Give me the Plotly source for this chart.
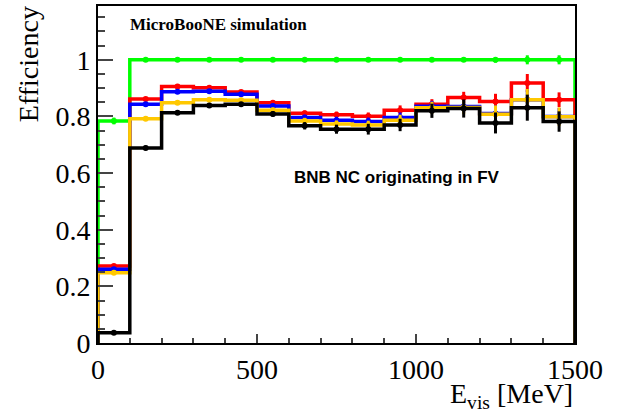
import plotly.graph_objects as go

# 15 bins of 100 MeV in visible energy
bin_edges = [0, 100, 200, 300, 400, 500, 600, 700, 800, 900, 1000, 1100, 1200, 1300, 1400, 1500]

green_eff = [0.784, 1.0, 1.0, 1.0, 1.0, 1.0, 1.0, 1.0, 1.0, 1.0, 1.0, 1.0, 1.0, 1.0, 1.0]
red_eff = [0.272, 0.862, 0.906, 0.901, 0.886, 0.848, 0.811, 0.806, 0.801, 0.822, 0.843, 0.867, 0.853, 0.918, 0.859]
blue_eff = [0.260, 0.843, 0.887, 0.889, 0.878, 0.837, 0.796, 0.787, 0.782, 0.796, 0.836, 0.835, 0.810, 0.859, 0.800]
yellow_eff = [0.248, 0.792, 0.848, 0.859, 0.857, 0.822, 0.784, 0.773, 0.770, 0.787, 0.831, 0.832, 0.808, 0.859, 0.799]
black_eff = [0.036, 0.689, 0.813, 0.839, 0.843, 0.809, 0.767, 0.755, 0.755, 0.770, 0.820, 0.828, 0.777, 0.831, 0.782]

green_err = [0.012, 0.0, 0.0, 0.0, 0.0, 0.0, 0.0, 0.0, 0.0, 0.002, 0.004, 0.006, 0.010, 0.016, 0.016]
red_err = [0.005, 0.006, 0.005, 0.005, 0.006, 0.008, 0.010, 0.011, 0.013, 0.017, 0.018, 0.020, 0.027, 0.032, 0.026]
blue_err = [0.005, 0.006, 0.005, 0.005, 0.006, 0.008, 0.010, 0.012, 0.014, 0.018, 0.019, 0.022, 0.029, 0.035, 0.030]
yellow_err = [0.005, 0.007, 0.006, 0.006, 0.007, 0.009, 0.011, 0.013, 0.015, 0.019, 0.021, 0.024, 0.031, 0.038, 0.033]
black_err = [0.003, 0.008, 0.007, 0.007, 0.007, 0.010, 0.013, 0.016, 0.019, 0.022, 0.025, 0.032, 0.037, 0.046, 0.036]

series = [
    ("#00ff00", green_eff, green_err),
    ("#ff0000", red_eff, red_err),
    ("#0000ff", blue_eff, blue_err),
    ("#ffc800", yellow_eff, yellow_err),
    ("#000000", black_eff, black_err),
]

centers = [(a + b) / 2 for a, b in zip(bin_edges[:-1], bin_edges[1:])]

fig = go.Figure()
for color, eff, err in series:
    # ROOT-style histogram outline: up from 0 at left edge, down to 0 at right edge
    xs = [bin_edges[0]] + bin_edges[:-1] + [bin_edges[-1], bin_edges[-1]]
    ys = [0] + eff + [eff[-1], 0]
    fig.add_trace(go.Scatter(x=xs, y=ys, mode="lines", line=dict(color=color, width=3.5, shape="hv"),
                             showlegend=False, hoverinfo="skip"))
    fig.add_trace(go.Scatter(x=centers, y=eff, mode="markers",
                             marker=dict(color=color, size=6),
                             error_y=dict(type="data", array=err, color=color, thickness=3, width=0),
                             showlegend=False))

serif = "Liberation Serif"

fig.update_layout(
    width=639, height=417,
    margin=dict(l=98, r=64, t=4, b=74),
    plot_bgcolor="white", paper_bgcolor="white",
    font=dict(family=serif, size=28, color="black"),
    xaxis=dict(range=[0, 1500], tickvals=[0, 500, 1000, 1500], ticks="inside", ticklen=9, tickwidth=2,
               minor=dict(dtick=100, tick0=0, ticks="inside", ticklen=5, tickwidth=2),
               showline=True, linewidth=2, linecolor="black", mirror=True, showgrid=False, zeroline=False),
    yaxis=dict(range=[0, 1.19], tickvals=[0, 0.2, 0.4, 0.6, 0.8, 1], ticktext=["0", "0.2", "0.4", "0.6", "0.8", "1"],
               ticks="inside", ticklen=15, tickwidth=2,
               minor=dict(dtick=0.05, tick0=0, ticks="inside", ticklen=7, tickwidth=2),
               showline=True, linewidth=2, linecolor="black", mirror=True, showgrid=False, zeroline=False),
    annotations=[
        dict(text="Efficiency", textangle=-90, xref="paper", yref="paper", x=-0.147, y=1.005,
             xanchor="center", yanchor="top", showarrow=False, font=dict(family=serif, size=28)),
        dict(text="E<sub>vis</sub> [MeV]", xref="paper", yref="paper", x=1.0, y=-0.155,
             xanchor="right", yanchor="middle", showarrow=False, font=dict(family=serif, size=28)),
        dict(text="<b>MicroBooNE simulation</b>", xref="paper", yref="paper", x=0.063, y=0.944,
             xanchor="left", yanchor="middle", showarrow=False, font=dict(family=serif, size=17)),
        dict(text="<b>BNB NC originating in FV</b>", xref="paper", yref="paper", x=0.407, y=0.49,
             xanchor="left", yanchor="middle", showarrow=False, font=dict(family="Liberation Sans", size=17)),
    ],
)

fig.write_html("out.html", config={"displayModeBar": False},
               post_script="document.body.style.margin='0';")
